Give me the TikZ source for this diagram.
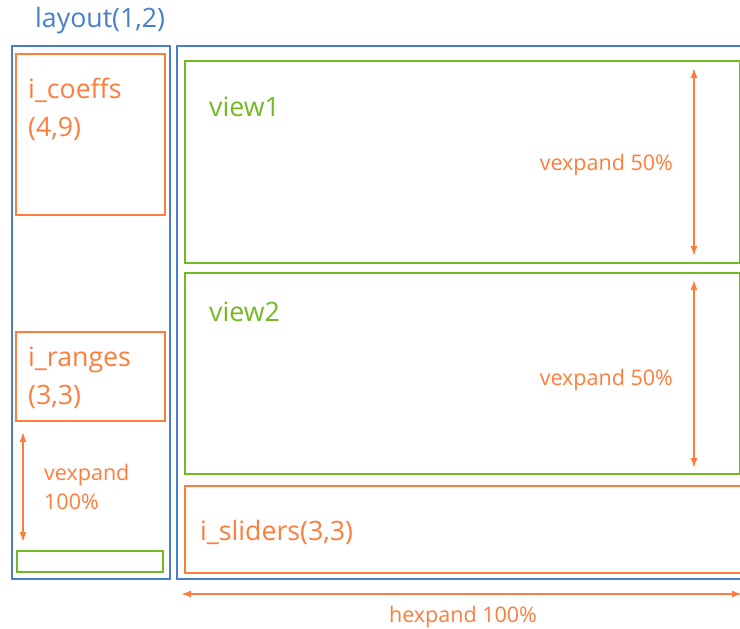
\documentclass[tikz,border=0pt]{standalone}
\usepackage{fontspec}
\setmainfont{Open Sans}
\usetikzlibrary{arrows.meta, positioning}
\definecolor{lyblue}{RGB}{72,126,204}
\definecolor{lyorange}{RGB}{255,125,60}
\definecolor{lygreen}{RGB}{116,184,36}
\newcommand{\lybig}{\fontsize{26.7}{38}\selectfont}
\newcommand{\lysmall}{\fontsize{21.5}{29}\selectfont}

\begin{document}
\begin{tikzpicture}[x=1pt, y=-1pt, >={Latex[length=10pt, width=7pt]},
    box/.style ={draw, line width=1.7pt, inner sep=0pt, anchor=north west},
    bluebox/.style ={box, draw=lyblue},
    orbox/.style ={box, draw=lyorange},
    grbox/.style ={box, draw=lygreen},
    boxlbl/.style={font=\lybig, inner sep=0pt, align=left, anchor=west},
    dim/.style ={<->, line width=1.5pt, lyorange},
    dimlbl/.style={font=\lysmall, text=lyorange, inner sep=0pt, align=left}]
    \useasboundingbox (0,0) rectangle (740,629);
    % outer layout
    \node[boxlbl, text=lyblue] (title) at (35,21) {layout(1,2)};
    \node[bluebox, minimum width=158pt, minimum height=533pt] (lcol) at (11,45) {};
    \node[bluebox, minimum width=600pt, minimum height=533pt] (rcol) at (176,45) {};
    % left column
    \node[orbox, minimum width=149pt, minimum height=161pt] (coeffs) at (15,53) {};
    \node[boxlbl, text=lyorange] (coeffslbl) at (28,109) {i\_coeffs\\(4,9)};
    \node[orbox, minimum width=149pt, minimum height=89pt] (ranges) at (15,331) {};
    \node[boxlbl, text=lyorange] (rangeslbl) at (28,378) {i\_ranges\\(3,3)};
    \node[grbox, minimum width=146pt, minimum height=21pt] (spacer) at (16,550) {};
    \coordinate (lva) at (23,432);
    \coordinate (lvb) at (23,542);
    \draw[dim] (lva) -- (lvb);
    \node[dimlbl, anchor=west] (lvlbl) at (44,487) {vexpand\\100\%};
    % right column
    \node[grbox, minimum width=555pt, minimum height=202pt] (view1) at (184,60) {};
    \node[boxlbl, text=lygreen] (view1lbl) at (209,107) {view1};
    \coordinate (v1a) at (694,68);
    \coordinate (v1b) at (694,256);
    \draw[dim] (v1a) -- (v1b);
    \node[dimlbl, anchor=east] (v1dim) at (673,165) {vexpand 50\%};
    \node[grbox, minimum width=555pt, minimum height=201pt] (view2) at (184,272) {};
    \node[boxlbl, text=lygreen] (view2lbl) at (209,312) {view2};
    \coordinate (v2a) at (694,280);
    \coordinate (v2b) at (694,468);
    \draw[dim] (v2a) -- (v2b);
    \node[dimlbl, anchor=east] (v2dim) at (673,380) {vexpand 50\%};
    \node[orbox, minimum width=600pt, minimum height=87pt] (sliders) at (184,485) {};
    \node[boxlbl, text=lyorange] (sliderslbl) at (200,532) {i\_sliders(3,3)};
    % horizontal expansion
    \coordinate (ha) at (181,594);
    \coordinate (hb) at (742,594);
    \draw[dim] (ha) -- (hb);
    \node[dimlbl] (hlbl) at (463,617) {hexpand 100\%};
\end{tikzpicture}
\end{document}
